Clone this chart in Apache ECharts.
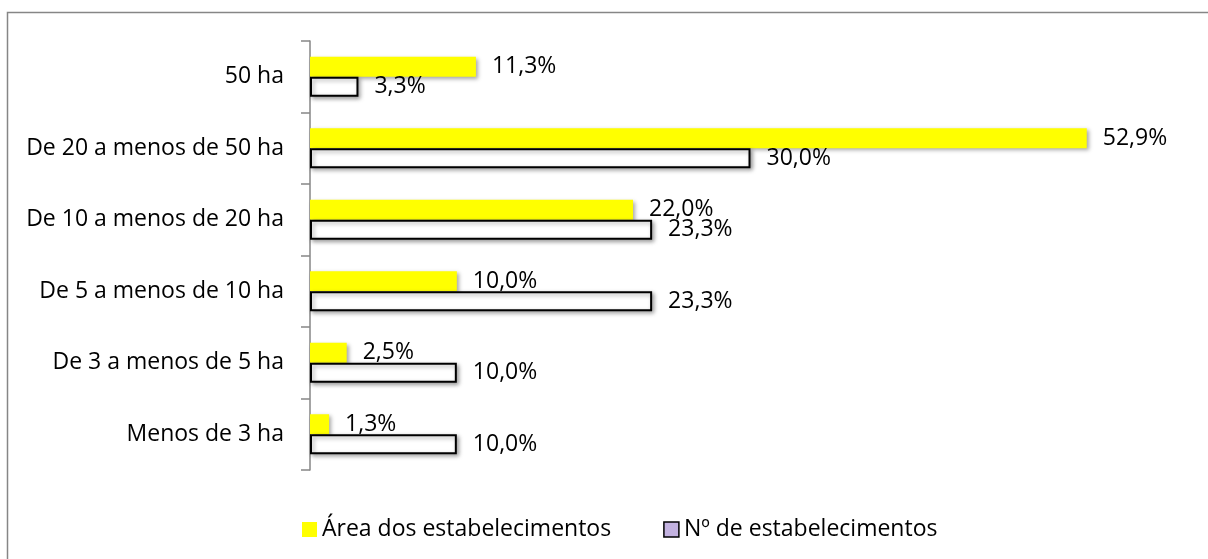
<!DOCTYPE html>
<html>
<head>
<meta charset="utf-8">
<script src="https://cdn.jsdelivr.net/npm/echarts@6/dist/echarts.min.js"></script>
<style>html,body{margin:0;padding:0;background:#fff;}#c{width:1208px;height:559px;}</style>
</head>
<body>
<div id="c"></div>
<script>
const categories = ['Menos de 3 ha', 'De 3 a menos de 5 ha', 'De 5 a menos de 10 ha', 'De 10 a menos de 20 ha', 'De 20 a menos de 50 ha', '50 ha'];
const areaValues = [1.3, 2.5, 10.0, 22.0, 52.9, 11.3];
const numValues = [10.0, 10.0, 23.3, 23.3, 30.0, 3.3];
const seriesNames = ['Área dos estabelecimentos', 'Nº de estabelecimentos'];

const FONT = 'Open Sans';
const fmt = p => p.value.toFixed(1).replace('.', ',') + '%';
const chart = echarts.init(document.getElementById('c'), null, {renderer: 'canvas'});
chart.setOption({
  animation: false,
  backgroundColor: '#fff',
  textStyle: {fontFamily: FONT},
  graphic: [{
    type: 'rect', shape: {x: 7.5, y: 12.5, width: 1300, height: 700},
    style: {fill: 'none', stroke: '#868686', lineWidth: 1.5}, z: -10
  }],
  grid: {left: 310, top: 41, width: 881, height: 429},
  xAxis: {type: 'value', min: 0, max: 60, show: false},
  yAxis: {
    type: 'category', data: categories,
    axisLine: {lineStyle: {color: '#868686', width: 1.5}},
    axisTick: {show: true, length: 9, lineStyle: {color: '#868686', width: 1.5}},
    axisLabel: {color: '#000', fontSize: 23, fontFamily: FONT, margin: 26}
  },
  legend: {
    left: 297, top: 513, itemWidth: 15, itemHeight: 15, itemGap: 52,
    icon: 'rect',
    textStyle: {fontSize: 23, fontFamily: FONT, color: '#000'},
    data: [
      {name: seriesNames[0], itemStyle: {color: '#ffff00', borderWidth: 0}},
      {name: seriesNames[1], itemStyle: {color: '#c3b2e0', borderColor: '#000', borderWidth: 1.5}}
    ]
  },
  series: [
    {
      name: seriesNames[0], type: 'bar', data: areaValues, barWidth: 20, barGap: '0%',
      itemStyle: {color: '#ffff00',
        shadowBlur: 4, shadowOffsetX: 2, shadowOffsetY: 2, shadowColor: 'rgba(0,0,0,0.35)'},
      label: {show: true, position: 'right', distance: 16, formatter: fmt,
        color: '#000', fontSize: 23, fontFamily: FONT}
    },
    {
      name: seriesNames[1], type: 'bar', data: numValues, barWidth: 20, barGap: '0%',
      itemStyle: {color: '#ffffff', borderColor: '#000', borderWidth: 2,
        shadowBlur: 4, shadowOffsetX: 2, shadowOffsetY: 2, shadowColor: 'rgba(0,0,0,0.35)'},
      label: {show: true, position: 'right', distance: 16, formatter: fmt,
        color: '#000', fontSize: 23, fontFamily: FONT}
    }
  ]
});
</script>
</body>
</html>
